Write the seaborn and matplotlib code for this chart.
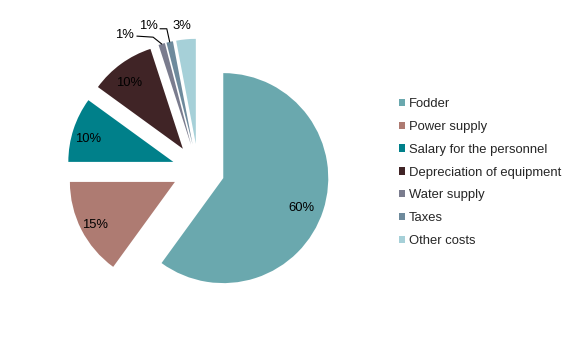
import numpy as np
import pandas as pd
import matplotlib
matplotlib.use("Agg")
import matplotlib.pyplot as plt
import seaborn as sns
from matplotlib.patches import Patch

categories = ["Fodder", "Power supply", "Salary for the personnel",
              "Depreciation of equipment", "Water supply", "Taxes", "Other costs"]
values = [60, 15, 10, 10, 1, 1, 3]
colors = ["#6AA8AE", "#AE7B72", "#00808A", "#402426", "#7A7C8E", "#6E8A9C", "#A6D0D8"]

df = pd.DataFrame({"category": categories, "value": values, "color": colors})

sns.set_style("white")
plt.rcParams["font.family"] = ["Liberation Sans", "DejaVu Sans"]

W, H = 581, 341
FS = 9.4
fig = plt.figure(figsize=(W / 100, H / 100), dpi=100)
px = 105.0           # pixels per data unit (pie radius)
cx, cy = 198.3, 171  # pie centre in pixels (from left, from bottom)
ax = fig.add_axes([0, 0, 1, 1])

explode = [0.25] * len(df)
wedges, _ = ax.pie(df["value"], colors=df["color"], startangle=90, counterclock=False,
                   explode=explode, radius=1.0, wedgeprops=dict(linewidth=0))

ax.set_xlim(-cx / px, (W - cx) / px)
ax.set_ylim(-cy / px, (H - cy) / px)
ax.set_aspect("auto")
ax.axis("off")

total = df["value"].sum()
small_offsets = {
    4: [(-0.70, 1.29), [(-0.585, 1.275), (-0.43, 1.265)]],
    5: [(-0.47, 1.375), [(-0.365, 1.345), (-0.30, 1.345)]],
    6: [(-0.155, 1.37), None],
}
lab_shift = np.array([-0.035, -0.035])
for i, w in enumerate(wedges):
    pct = f"{df['value'][i] / total * 100:.0f}%"
    mid = np.deg2rad((w.theta1 + w.theta2) / 2)
    c = np.array(w.center)
    if df["value"][i] >= 5:
        p = c + 0.82 * np.array([np.cos(mid), np.sin(mid)]) + lab_shift
        ax.text(p[0], p[1], pct, ha="center", va="center", fontsize=FS, color="black")
    else:
        lab, pts = small_offsets[i]
        ax.text(lab[0], lab[1], pct, ha="center", va="center", fontsize=FS, color="black")
        if pts is not None:
            tip = c + w.r * np.array([np.cos(mid), np.sin(mid)])
            xs = [pts[0][0], pts[1][0], tip[0]]
            ys = [pts[0][1], pts[1][1], tip[1]]
            ax.plot(xs, ys, color="black", lw=0.8)

handles = [Patch(facecolor=col, edgecolor="none") for col in df["color"]]
fig.legend(handles, df["category"], loc="upper left",
           bbox_to_anchor=(399 / W, 1 - 98 / H), frameon=False, fontsize=FS,
           handlelength=0.48, handleheight=0.48, handletextpad=0.3,
           labelspacing=0.83, borderpad=0, borderaxespad=0)

fig.savefig("out.png", dpi=100)
